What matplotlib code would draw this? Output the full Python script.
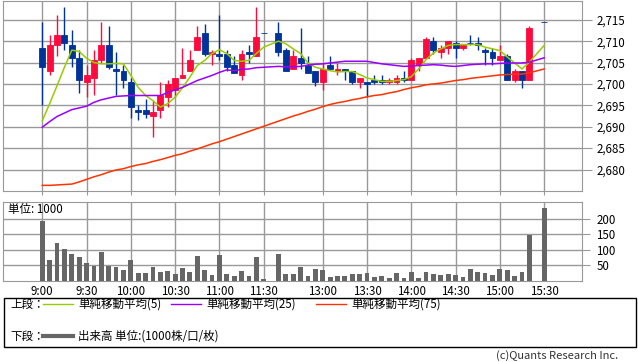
import matplotlib
matplotlib.use("Agg")
import matplotlib.pyplot as plt
from matplotlib.patches import Rectangle
from matplotlib.lines import Line2D
from matplotlib.ticker import FuncFormatter

plt.rcParams['font.family'] = ['Noto Sans CJK JP', 'DejaVu Sans']

# 5分足の時刻 (前場 9:00-11:30 / 後場 12:30-15:20 / 大引け 15:30)
times = [f"{m // 60}:{m % 60:02d}" for m in range(540, 691, 5)] + \
        [f"{m // 60}:{m % 60:02d}" for m in range(750, 921, 5)] + ["15:30"]

opens = [2708.5, 2703, 2709, 2711.5, 2709, 2706, 2700.5, 2701.5, 2705.5, 2709,
         2703.5, 2703, 2700.5, 2694, 2694, 2692.5, 2694, 2697, 2698.5, 2701.5,
         2703, 2708, 2712, 2707, 2707, 2707, 2704.5, 2702, 2707.5, 2706.5, 2712,
         2712, 2708, 2703.5, 2706, 2704.5, 2703, 2700.5, 2704.5, 2703, 2703.5,
         2703, 2700.5, 2700.5, 2701, 2701, 2700.5, 2700.5, 2701.5, 2701, 2704.5,
         2706, 2710, 2707.5, 2708.5, 2709.5, 2708.5, 2709.5, 2709.5, 2708, 2707.5,
         2705.5, 2706.5, 2701, 2703, 2701, 2714.5]
highs = [2714.5, 2711.5, 2716, 2718, 2712.5, 2708, 2704.5, 2708, 2714.5, 2713.5,
         2707.5, 2704.5, 2701.5, 2695, 2696.5, 2696, 2700.5, 2701, 2701.5, 2708.5,
         2708, 2713.5, 2714, 2708, 2716, 2708, 2706.5, 2708, 2709, 2718, 2712,
         2714.5, 2708.5, 2708, 2713, 2706.5, 2703, 2705, 2706.5, 2705, 2703.5,
         2703, 2701.5, 2700.5, 2702, 2702, 2701.5, 2702, 2703, 2706, 2706,
         2711, 2711, 2709, 2710, 2710, 2709, 2711.5, 2711, 2708.5, 2708.5,
         2709, 2707, 2703.5, 2703, 2713.5, 2714.5]
lows = [2695, 2702, 2706.5, 2708, 2704, 2698, 2697, 2697.5, 2705, 2703.5,
        2697.5, 2699, 2692, 2691.5, 2692, 2687.5, 2692, 2694.5, 2697, 2701.5,
        2703, 2708, 2706.5, 2704.5, 2705.5, 2703, 2702.5, 2701, 2705, 2706.5, 2712,
        2706.5, 2703, 2703.5, 2703.5, 2702.5, 2699.5, 2698.5, 2703.5, 2702, 2701,
        2700, 2699, 2697, 2700, 2700, 2700, 2700, 2700.5, 2701, 2703,
        2706, 2707, 2706, 2707, 2706, 2708, 2709, 2708, 2704.5, 2704.5,
        2705.5, 2701, 2700.5, 2699, 2701, 2714.5]
closes = [2704, 2709, 2711.5, 2709.5, 2706, 2701, 2702, 2705.5, 2709, 2704,
          2703, 2701, 2694.5, 2693.5, 2693, 2693.5, 2697.5, 2700, 2701.5, 2702,
          2705.5, 2711, 2707, 2707.5, 2706.5, 2704, 2702.5, 2707, 2707, 2711, 2712,
          2707.5, 2703, 2706.5, 2705, 2702.5, 2700.5, 2703.5, 2703.5, 2703.5, 2703,
          2700.5, 2701.5, 2700, 2700.5, 2700.5, 2701, 2701.5, 2701, 2705.5, 2706,
          2710.5, 2708, 2708.5, 2710, 2708.5, 2709, 2709.5, 2709, 2707.5, 2706,
          2706.5, 2701, 2703, 2701, 2713, 2714.5]

ma5 = [2691.4, 2695.4, 2699.6, 2703.9, 2707.9, 2707.6, 2706.0, 2705.0, 2704.7, 2704.7,
       2704.8, 2704.7, 2702.0, 2699.2, 2697.3, 2696.1, 2694.6, 2695.4, 2696.9, 2699.1,
       2701.6, 2704.3, 2705.5, 2707.1, 2708.0, 2707.1, 2705.5, 2705.3, 2705.5, 2707.1, 2708.6,
       2710.0, 2709.4, 2708.2, 2707.1, 2704.9, 2703.9, 2703.5, 2703.1, 2702.8, 2702.9,
       2702.9, 2702.2, 2701.4, 2701.0, 2700.6, 2700.6, 2700.8, 2701.0, 2701.7, 2703.5,
       2705.7, 2707.2, 2708.2, 2709.0, 2709.2, 2709.2, 2709.2, 2709.2, 2708.6, 2708.2,
       2707.8, 2706.3, 2704.9, 2703.5, 2705.1, 2709.0]
ma25 = [2689.9, 2691.2, 2692.4, 2693.2, 2694.0, 2694.4, 2694.8, 2695.7, 2696.3, 2696.7,
        2697.1, 2697.2, 2697.3, 2697.3, 2697.3, 2697.3, 2697.3, 2698.0, 2698.6, 2699.2,
        2700.0, 2700.8, 2701.4, 2702.0, 2702.7, 2703.3, 2703.1, 2703.4, 2703.5, 2703.8, 2703.9,
        2704.1, 2704.0, 2704.0, 2704.1, 2704.4, 2704.6, 2704.7, 2704.9, 2705.1, 2705.3,
        2705.3, 2705.3, 2705.3, 2705.0, 2704.7, 2704.5, 2704.3, 2704.1, 2704.2, 2704.3,
        2704.4, 2704.5, 2704.4, 2704.2, 2704.1, 2704.3, 2704.5, 2704.6, 2704.7, 2704.7,
        2704.8, 2704.9, 2704.9, 2704.9, 2705.1, 2706.1]
ma75 = [2676.3, 2676.3, 2676.4, 2676.5, 2676.6, 2677.1, 2677.7, 2678.3, 2678.8, 2679.4,
        2679.9, 2680.2, 2680.7, 2681.1, 2681.4, 2681.9, 2682.3, 2682.8, 2683.3, 2683.7,
        2684.3, 2684.8, 2685.4, 2686.0, 2686.5, 2687.1, 2687.7, 2688.3, 2688.9, 2689.5, 2690.1,
        2691.3, 2691.9, 2692.5, 2693.0, 2693.6, 2694.1, 2694.7, 2695.2, 2695.6, 2695.9,
        2696.3, 2696.6, 2697.0, 2697.3, 2697.5, 2697.9, 2698.2, 2698.7, 2699.1, 2699.4,
        2699.8, 2700.0, 2700.2, 2700.5, 2700.8, 2701.0, 2701.3, 2701.5, 2701.7, 2701.9,
        2702.1, 2702.2, 2702.3, 2702.3, 2702.6, 2703.5]

volume = [194, 66, 120, 101, 85, 76, 57, 48, 92, 48,
          44, 34, 66, 25, 25, 44, 28, 31, 21, 41,
          28, 79, 34, 18, 82, 21, 15, 31, 15, 76, 5,
          85, 21, 21, 44, 15, 37, 34, 12, 15, 15,
          21, 21, 25, 12, 15, 9, 25, 9, 28, 9,
          28, 21, 18, 21, 18, 12, 37, 28, 25, 18,
          37, 34, 15, 28, 146, 235]

tick_labels = ['9:00', '9:30', '10:00', '10:30', '11:00', '11:30',
               '13:00', '13:30', '14:00', '14:30', '15:00', '15:30']
price_ticks = [2680, 2685, 2690, 2695, 2700, 2705, 2710, 2715]
vol_ticks = [50, 100, 150, 200]


def slot(t):
    h, m = t.split(':')
    mins = int(h) * 60 + int(m)
    s = (mins - 540) // 5
    return s if mins <= 690 else s - 10


xs = [slot(t) for t in times]
tick_pos = [slot(t) for t in tick_labels]

RED = '#ff0a3c'
BLUE = '#003399'
GRID = '#999999'
W, H = 638, 362

fig = plt.figure(figsize=(W / 100, H / 100), dpi=100)


def fx(px):
    return px / W


def fy(py):
    return 1 - py / H


ax = fig.add_axes([fx(3.3), fy(190.5), fx(582.3) - fx(3.3), fy(0.5) - fy(190.5)])
axv = fig.add_axes([fx(3.3), fy(280.5), fx(582.3) - fx(3.3), fy(201.7) - fy(280.5)])

# ローソク足
for x, o, h, l, c in zip(xs, opens, highs, lows, closes):
    col = RED if c > o else BLUE
    ax.vlines(x, l, h, color=col, lw=1.0, zorder=3)
    ax.bar(x, abs(c - o), width=0.8, bottom=min(o, c), color=col,
           edgecolor=col, linewidth=0.6, zorder=4)

ax.plot(xs, ma5, color='#99cc00', lw=1.1, zorder=5)
ax.plot(xs, ma25, color='#9900ff', lw=1.1, zorder=5)
ax.plot(xs, ma75, color='#ff3300', lw=1.1, zorder=5)

ax.set_xlim(-5.28, 73.17)
ax.set_ylim(2675.1, 2719.5)
ax.set_xticks(tick_pos)
ax.set_xticklabels([])
ax.set_yticks(price_ticks)
ax.yaxis.tick_right()
ax.yaxis.set_major_formatter(FuncFormatter(lambda v, p: f"{int(v):,}"))
ax.grid(True, color=GRID, lw=1, zorder=0)
ax.tick_params(axis='x', length=3, color=GRID)
ax.tick_params(axis='y', length=7, color=GRID, labelsize=8.3, pad=3)
for sp in ax.spines.values():
    sp.set_color(GRID)

# 出来高
axv.bar(xs, volume, width=0.65, color='#666666', zorder=3)
axv.set_xlim(-5.28, 73.17)
axv.set_ylim(0, 255)
axv.set_xticks(tick_pos)
axv.set_xticklabels(tick_labels)
axv.set_yticks(vol_ticks)
axv.yaxis.tick_right()
axv.grid(True, color=GRID, lw=1, zorder=0)
axv.tick_params(axis='x', length=0, labelsize=8.3, pad=3)
axv.tick_params(axis='y', length=6, color=GRID, labelsize=8.3, pad=4)
for sp in axv.spines.values():
    sp.set_color(GRID)
axv.text(0.008, 0.9, '単位: 1000', transform=axv.transAxes, fontsize=8.3,
         va='center', ha='left', zorder=6)

# 凡例
fig.add_artist(Rectangle((fx(4), fy(346.5)), fx(636) - fx(4), fy(297.5) - fy(346.5),
                         transform=fig.transFigure, fill=False, edgecolor='black', lw=1))
fig.text(fx(10), fy(304), '上段：', fontsize=8.3, va='center')
for x0, col, label in [(43, '#99cc00', '単純移動平均(5)'),
                       (171, '#9900ff', '単純移動平均(25)'),
                       (316, '#ff3300', '単純移動平均(75)')]:
    fig.add_artist(Line2D([fx(x0), fx(x0 + 30)], [fy(304), fy(304)], color=col, lw=1))
    fig.text(fx(x0 + 35), fy(304), label, fontsize=8.3, va='center')
fig.text(fx(10), fy(336), '下段：', fontsize=8.3, va='center')
fig.add_artist(Line2D([fx(43), fx(73)], [fy(336), fy(336)], color='#666666', lw=3))
fig.text(fx(78), fy(336), '出来高 単位:(1000株/口/枚)', fontsize=8.3, va='center')
fig.text(fx(618), fy(361), '(c)Quants Research Inc.', fontsize=8, va='bottom',
         ha='right', color='#333333')

fig.savefig('out.png', dpi=100)
